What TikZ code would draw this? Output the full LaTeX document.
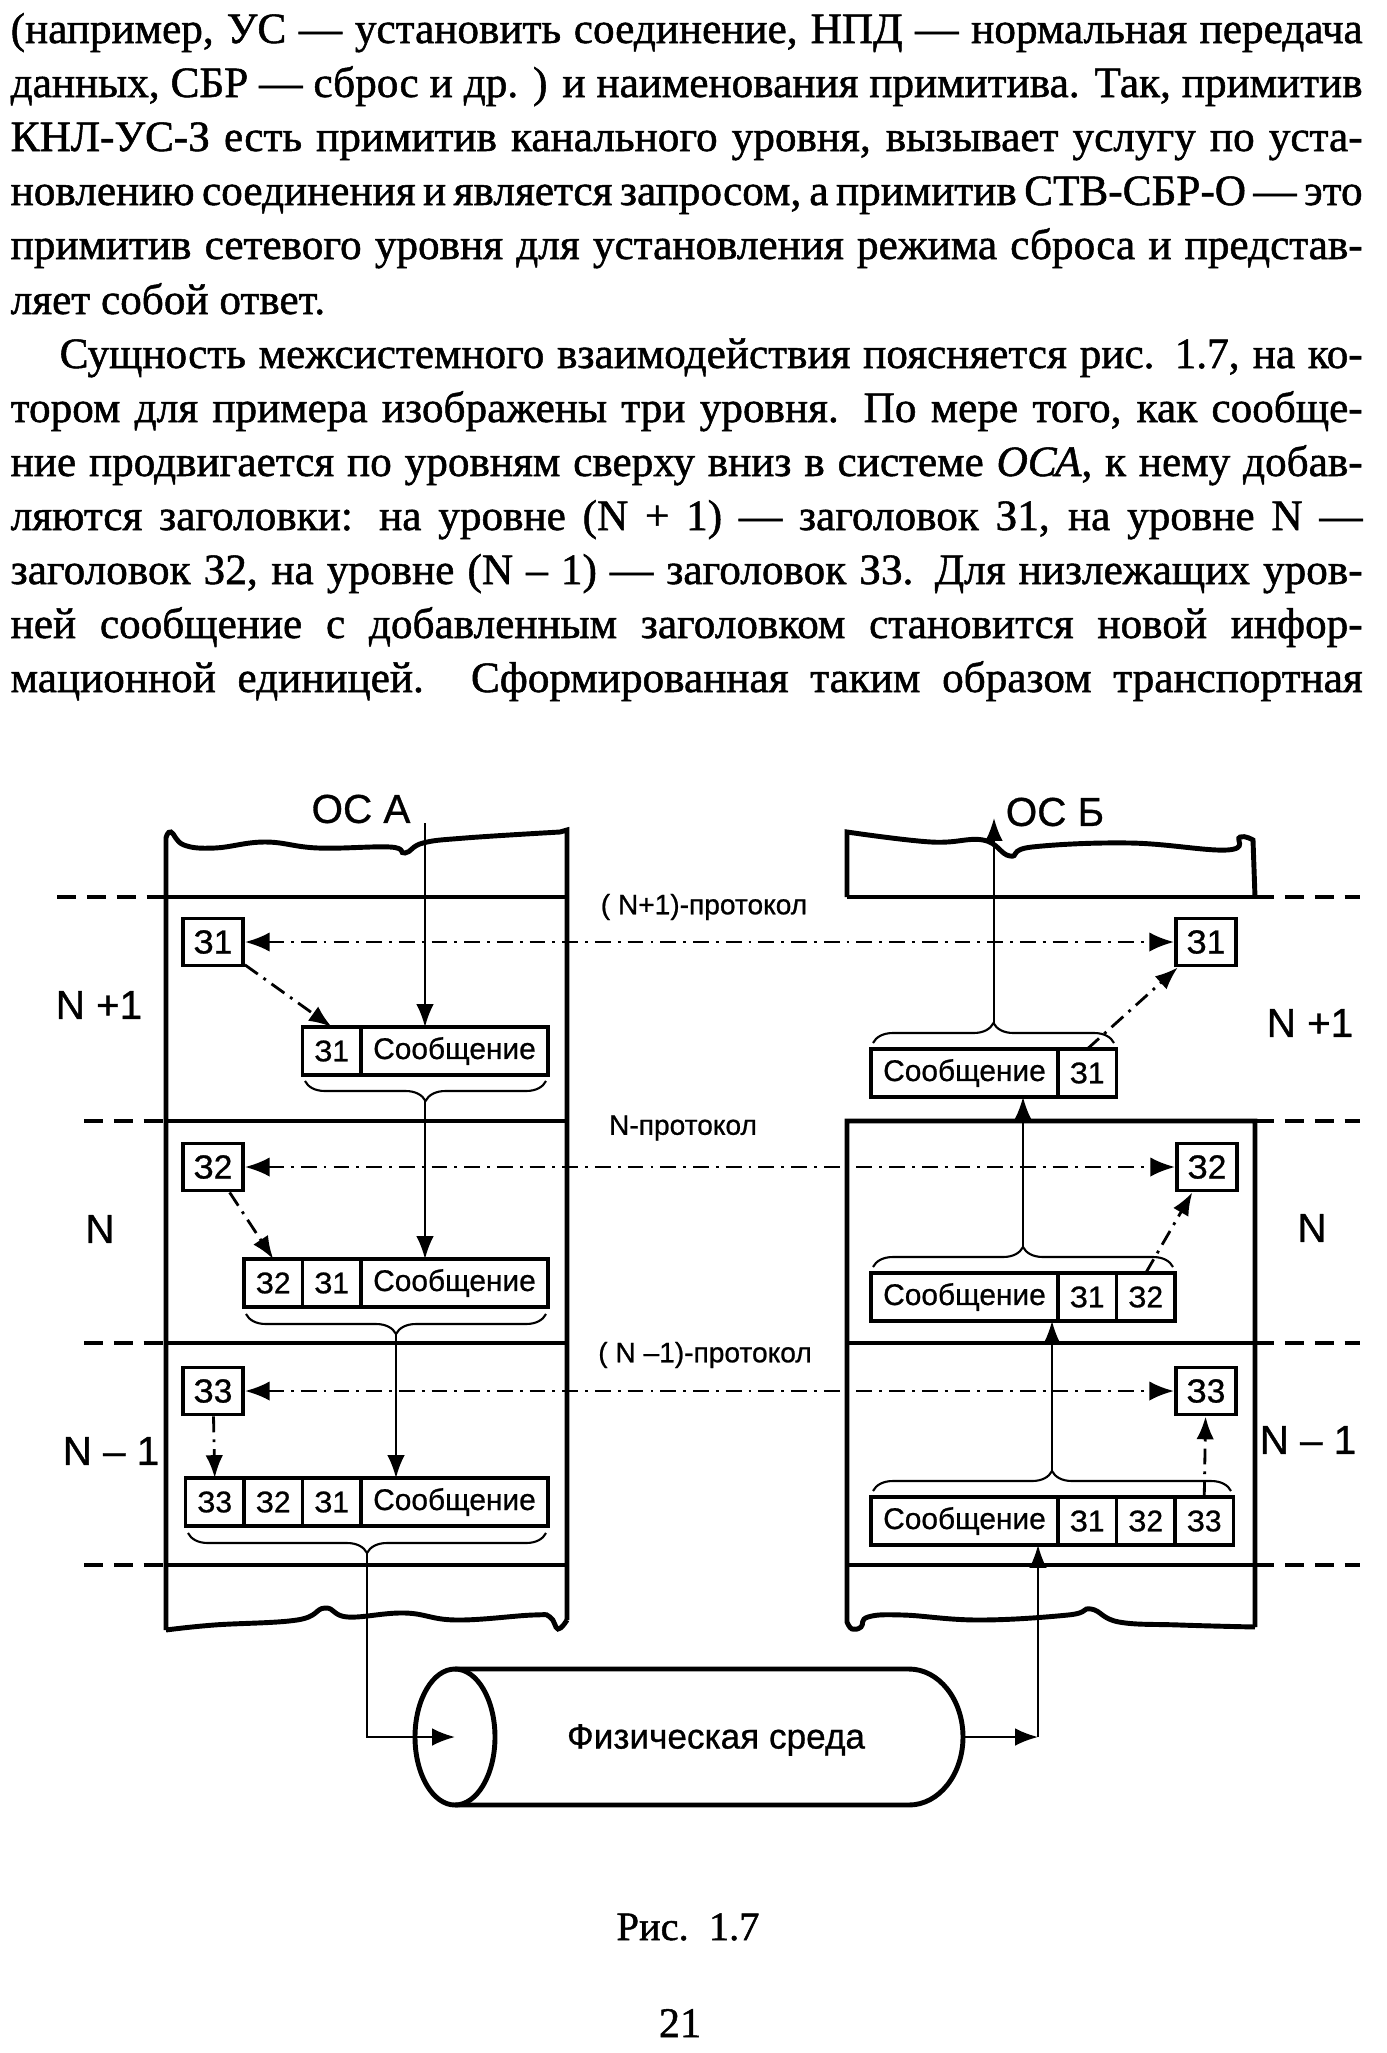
\documentclass[tikz,border=0pt]{standalone}
\usepackage{fontspec}
\setmainfont{Liberation Serif}[FakeBold=1.2]
\setsansfont{Liberation Sans}[FakeBold=0.8]
\usetikzlibrary{arrows.meta,decorations.pathreplacing}

\newcommand{\tline}[1]{\makebox[135.2mm][s]{#1}}
\newcommand{\tlinein}[1]{\makebox[130.3mm][s]{#1}}

\tikzset{
  wall/.style={line width=1.4pt},
  levelline/.style={line width=1pt,dash pattern=on 5.5pt off 3pt},
  cell/.style={draw,line width=1.1pt,inner sep=0pt,outer sep=0pt,minimum height=4.8mm,
    font=\sffamily\fontsize{8.5pt}{9pt}\selectfont},
  hdr/.style={cell,minimum width=5.85mm},
  msg/.style={cell,minimum width=18.7mm},
  head/.style={draw,line width=1.1pt,inner sep=0pt,minimum width=6mm,minimum height=4.7mm,
    font=\sffamily\fontsize{9.5pt}{10pt}\selectfont},
  flow/.style={line width=0.6pt,-{Latex[length=6.5pt,width=5pt]}},
  peer/.style={line width=0.8pt,dash pattern=on 4.5pt off 2pt on 0.8pt off 2pt,
    {Latex[length=7pt,width=5.5pt]}-{Latex[length=7pt,width=5.5pt]}},
  hop/.style={line width=0.8pt,dash pattern=on 4.5pt off 2pt on 0.8pt off 2pt,
    -{Latex[length=6.5pt,width=5pt]}},
  embrace/.style={decorate,decoration={brace,amplitude=2mm},line width=0.6pt},
  lvl/.style={font=\sffamily\fontsize{11.5pt}{12pt}\selectfont},
  proto/.style={font=\sffamily\fontsize{8pt}{9pt}\selectfont},
  txt/.style={anchor=base west,inner sep=0pt,font=\fontsize{12.3pt}{15pt}\selectfont},
}

\begin{document}
\begin{tikzpicture}[x=0.1mm,y=-0.1mm]
\useasboundingbox[fill=white] (0,0) rectangle (1387,2053);

\node[txt] (l1) at (10,43) {\tline{(например, УС — установить соединение, НПД — нормальная передача}};
\node[txt] (l2) at (10,97) {\tline{данных, СБР — сброс и др. ) и наименования примитива. Так, примитив}};
\node[txt] (l3) at (10,151) {\tline{КНЛ-УС-З есть примитив канального уровня, вызывает услугу по уста-}};
\node[txt] (l4) at (10,205) {\tline{новлению соединения и является запросом, а примитив СТВ-СБР-О — это}};
\node[txt] (l5) at (10,259) {\tline{примитив сетевого уровня для установления режима сброса и представ-}};
\node[txt] (l6) at (10,314) {ляет собой ответ.};
\node[txt] (l7) at (59,368) {\tlinein{Сущность межсистемного взаимодействия поясняется рис. 1.7, на ко-}};
\node[txt] (l8) at (10,422) {\tline{тором для примера изображены три уровня. По мере того, как сообще-}};
\node[txt] (l9) at (10,476) {\tline{ние продвигается по уровням сверху вниз в системе \textit{ОСА}, к нему добав-}};
\node[txt] (l10) at (10,530) {\tline{ляются заголовки: на уровне (N + 1) — заголовок З1, на уровне N —}};
\node[txt] (l11) at (10,584) {\tline{заголовок З2, на уровне (N – 1) — заголовок З3. Для низлежащих уров-}};
\node[txt] (l12) at (10,638) {\tline{ней сообщение с добавленным заголовком становится новой инфор-}};
\node[txt] (l13) at (10,692) {\tline{мационной единицей. Сформированная таким образом транспортная}};

% system A
\draw[wall] (567,1620) -- (567,830) -- plot[smooth,tension=0.7] coordinates {(560,832) (465,838)
  (423,843) (405,853) (390,847) (318,848) (265,842) (215,848) (184,845) (171,832) (166,838)}
  -- (166,1630);
\draw[wall] plot[smooth,tension=0.7] coordinates {(166,1630) (214,1625) (297,1620) (325,1608)
  (348,1617) (405,1613) (456,1620) (533,1615) (550,1617) (558,1629) (567,1620)};

% system B
\draw[wall] (847,897) -- plot[smooth,tension=0.7] coordinates {(847,832) (931,842) (983,840)
  (1010,856) (1032,847) (1130,843) (1227,850) (1240,837) (1253,840)} -- (1255,897);
\draw[wall] (1255,1627) -- (1255,1121) -- (847,1121) -- (847,1622) -- plot[smooth,tension=0.7]
  coordinates {(847,1622) (852,1629) (861,1627) (868,1617) (903,1615) (979,1620) (1068,1615)
  (1091,1609) (1119,1622) (1180,1625) (1255,1627)};

\draw[wall] (166,897) -- (567,897);
\draw[wall] (847,897) -- (1255,897);
\draw[levelline] (57,897) -- (166,897);
\draw[levelline] (1255,897) -- (1360,897);
\foreach \y in {1121,1343,1565} {
  \draw[wall] (166,\y) -- (567,\y);
  \draw[wall] (847,\y) -- (1255,\y);
  \draw[levelline] (84,\y) -- (166,\y);
  \draw[levelline] (1255,\y) -- (1360,\y);
}

\node[lvl] (osA) at (361,809) {ОС А};
\node[lvl] (osB) at (1055,812) {ОС Б};
\node[lvl] (lvA1) at (99,1005) {N +1};
\node[lvl] (lvA2) at (100,1229) {N};
\node[lvl] (lvA3) at (111,1451) {N – 1};
\node[lvl] (lvB1) at (1310,1023) {N +1};
\node[lvl] (lvB2) at (1312,1228) {N};
\node[lvl] (lvB3) at (1308,1440) {N – 1};

\node[proto] (pr1) at (704,907) {( N+1)-протокол};
\node[proto] (pr2) at (683,1128) {N-протокол};
\node[proto] (pr3) at (705,1355) {( N –1)-протокол};

% headers
\node[head] (sA1) at (213,942) {З1};
\node[head] (sA2) at (213,1167) {З2};
\node[head] (sA3) at (213,1391) {З3};
\node[head] (sB1) at (1206,942) {З1};
\node[head] (sB2) at (1207,1167) {З2};
\node[head] (sB3) at (1206,1391) {З3};

% messages, system A
\node[hdr] (mA1a) at (331.75,1051) {З1};
\node[msg,anchor=west] (mA1m) at (mA1a.east) {Сообщение};
\node[hdr] (mA2a) at (273.25,1283) {З2};
\node[hdr,anchor=west] (mA2b) at (mA2a.east) {З1};
\node[msg,anchor=west] (mA2m) at (mA2b.east) {Сообщение};
\node[hdr] (mA3a) at (214.75,1502) {З3};
\node[hdr,anchor=west] (mA3b) at (mA3a.east) {З2};
\node[hdr,anchor=west] (mA3c) at (mA3b.east) {З1};
\node[msg,anchor=west] (mA3m) at (mA3c.east) {Сообщение};

% messages, system B
\node[msg,anchor=west] (mB1m) at (871,1073) {Сообщение};
\node[hdr,anchor=west] (mB1a) at (mB1m.east) {З1};
\node[msg,anchor=west] (mB2m) at (871,1297) {Сообщение};
\node[hdr,anchor=west] (mB2a) at (mB2m.east) {З1};
\node[hdr,anchor=west] (mB2b) at (mB2a.east) {З2};
\node[msg,anchor=west] (mB3m) at (871,1521) {Сообщение};
\node[hdr,anchor=west] (mB3a) at (mB3m.east) {З1};
\node[hdr,anchor=west] (mB3b) at (mB3a.east) {З2};
\node[hdr,anchor=west] (mB3c) at (mB3b.east) {З3};

% braces
\draw[embrace] (546,1081) -- (305,1081);
\draw[embrace] (546,1314) -- (246,1314);
\draw[embrace] (546,1533) -- (188,1533);
\draw[embrace] (873,1043) -- (1114,1043);
\draw[embrace] (873,1267) -- (1173,1267);
\draw[embrace] (873,1491) -- (1231,1491);
\coordinate (bA1) at (425,1101);
\coordinate (bA2) at (396,1334);
\coordinate (bA3) at (367,1553);
\coordinate (bB1) at (994,1023);
\coordinate (bB2) at (1023,1247);
\coordinate (bB3) at (1052,1471);

% physical medium
\coordinate (cylin) at (455,1737);
\coordinate (cylout) at (963,1737);
\draw[wall] (cylin) ellipse [x radius=4mm,y radius=6.8mm];
\draw[wall] (455,1669) -- (909,1669) arc[start angle=90,end angle=-90,x radius=5.4mm,y radius=6.8mm]
  -- (455,1805);
\node[font=\sffamily\fontsize{10pt}{11pt}\selectfont] (medium) at (716,1740) {Физическая среда};

% flows
\coordinate (inA) at (425,823);
\coordinate (outB) at (994,818);
\coordinate (turnB) at (1038,1737);
\draw[flow] (inA) -- (inA |- mA1m.north);
\draw[flow] (bA1) -- (bA1 |- mA2m.north);
\draw[flow] (bA2) -- (bA2 |- mA3m.north);
\draw[flow] (bA3) |- (cylin);
\draw[flow] (cylout) -- (turnB);
\draw[flow] (turnB) -- (turnB |- mB3m.south);
\draw[flow] (bB3) -- (bB3 |- mB2m.south);
\draw[flow] (bB2) -- (bB2 |- mB1m.south);
\draw[flow] (bB1) -- (outB);

% protocols
\draw[peer] (sA1) -- (sB1);
\draw[peer] (sA2) -- (sB2);
\draw[peer] (sA3) -- (sB3);
\draw[hop] (sA1) -- (mA1a.north);
\draw[hop] (sA2) -- (mA2a.north);
\draw[hop] (sA3) -- (mA3a.north);
\draw[hop] (mB1a.north) -- (sB1);
\draw[hop] (mB2b.north) -- (sB2);
\draw[hop] (mB3c.north) -- (sB3);

\node[anchor=base,font=\fontsize{11.5pt}{12pt}\selectfont] (cap) at (688,1940) {Рис.\ \ 1.7};
\node[anchor=base,font=\fontsize{12pt}{12pt}\selectfont] (page) at (680,2037) {21};

\end{tikzpicture}
\end{document}
